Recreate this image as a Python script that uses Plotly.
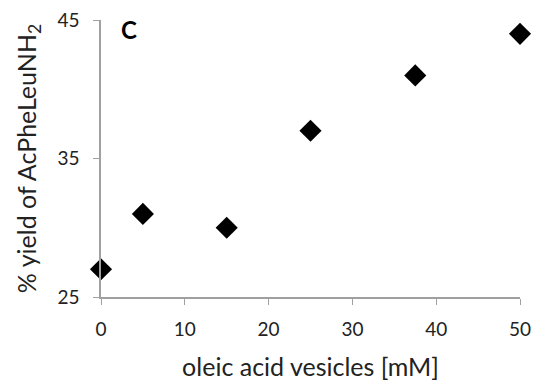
import plotly.graph_objects as go

# oleic acid vesicle concentration (mM) and dipeptide yield (%)
vesicles_mM = [0, 5, 15, 25, 37.5, 50]
yield_pct = [27, 31, 30, 37, 41, 44]

x_ticks = [0, 10, 20, 30, 40, 50]
y_ticks = [25, 35, 45]

font_family = "Lato, Open Sans, Liberation Sans, sans-serif"

fig = go.Figure(
    go.Scatter(
        x=vesicles_mM,
        y=yield_pct,
        mode="markers",
        marker=dict(symbol="diamond", size=17, color="black"),
        cliponaxis=False,
        showlegend=False,
    )
)

fig.update_layout(
    width=536,
    height=384,
    margin=dict(l=101, r=16, t=20, b=87),
    plot_bgcolor="white",
    paper_bgcolor="white",
    font=dict(family=font_family, color="#222", size=19),
    xaxis=dict(
        range=[0, 50],
        tickvals=x_ticks,
        ticks="outside",
        ticklen=6,
        tickcolor="#a0a0a0",
        showline=True,
        linecolor="#a0a0a0",
        linewidth=1.5,
        showgrid=False,
        zeroline=False,
        automargin=False,
        ticklabelstandoff=8,
        title=dict(text="oleic acid vesicles [mM]", font=dict(size=25), standoff=20),
        tickfont=dict(size=19),
    ),
    yaxis=dict(
        range=[25, 45],
        tickvals=y_ticks,
        ticks="outside",
        ticklen=6,
        tickcolor="#a0a0a0",
        showline=True,
        linecolor="#a0a0a0",
        linewidth=1.5,
        showgrid=False,
        zeroline=False,
        automargin=False,
        ticklabelstandoff=10,
        title=dict(text="% yield of AcPheLeuNH<sub>2</sub>", font=dict(size=25), standoff=14),
        tickfont=dict(size=19),
    ),
    annotations=[
        dict(
            text="<b>C</b>",
            xref="paper",
            yref="paper",
            x=0.042,
            y=1.025,
            xanchor="left",
            yanchor="top",
            showarrow=False,
            font=dict(size=24, color="black", family=font_family),
        )
    ],
)

fig.write_html("out.html")
